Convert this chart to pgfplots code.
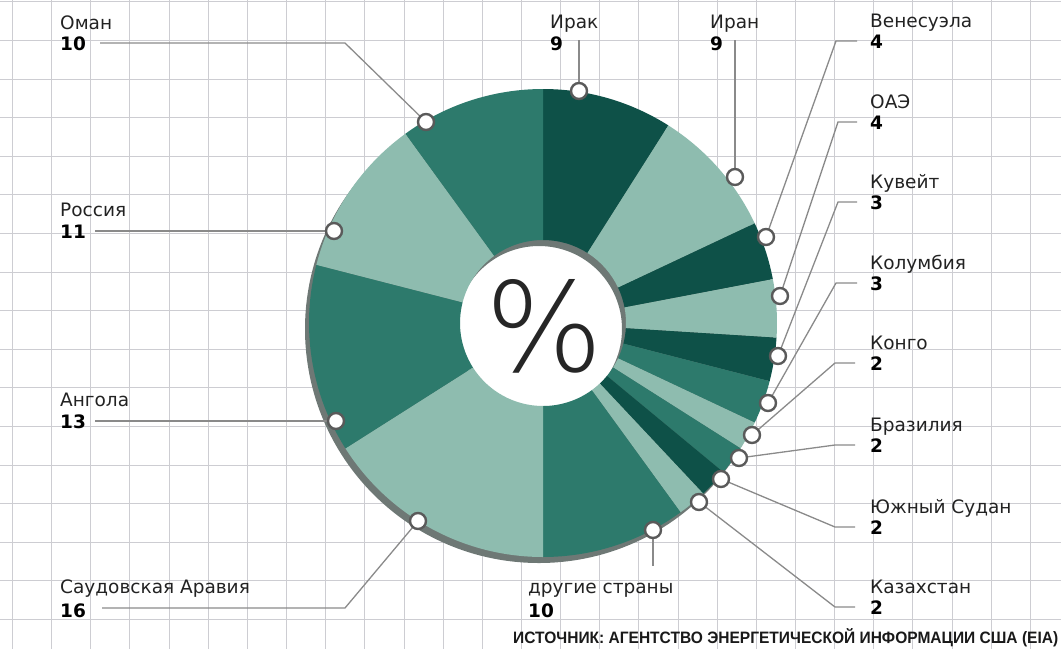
\documentclass[border=0pt]{standalone}
\usepackage{fontspec}
\setmainfont{DejaVu Sans}
\newfontfamily\srcfont{Liberation Sans}
\IfFontExistsTF{DejaVu Sans ExtraLight}
  {\newfontfamily\pctfont{DejaVu Sans ExtraLight}}
  {\IfFontExistsTF{Fira Sans ExtraLight}
    {\newfontfamily\pctfont{Fira Sans ExtraLight}}
    {\IfFontExistsTF{Lato Light}
      {\newfontfamily\pctfont{Lato Light}}
      {\IfFontExistsTF{Open Sans Light}
        {\newfontfamily\pctfont{Open Sans Light}}
        {\newfontfamily\pctfont{Latin Modern Sans}}}}}
\usepackage{graphicx}
\usepackage{pgfplots}
\usepackage{pgfplotstable}
\pgfplotsset{compat=1.18}

\definecolor{dk}{HTML}{0E5148}
\definecolor{md}{HTML}{2D7A6C}
\definecolor{lt}{HTML}{8EBCAF}
\definecolor{shd}{HTML}{6E7875}
\definecolor{gridc}{HTML}{CDCDD2}
\definecolor{leadc}{HTML}{8A8A8A}
\definecolor{mkc}{HTML}{5A5A5A}
\definecolor{namec}{HTML}{222222}

% share (%), slice colour, marker position (pixels from top-left)
\pgfplotstableread[col sep=comma]{
value,col,mx,my
9,dk,579,91
9,lt,735,177
4,dk,766,237
4,lt,780,296
3,dk,778,356
3,md,768,403
2,lt,752,435
2,md,739,458
2,dk,721,479
2,lt,699,502
10,md,653,530
16,lt,418,521
13,md,336,421
11,lt,334,231
10,md,426,122
}\slices

\gdef\sa{90}
\pgfplotstableforeachcolumnelement{value}\of\slices\as\v{%
  \pgfmathsetmacro\ea{\sa-3.6*\v}%
  \expandafter\xdef\csname SA\pgfplotstablerow\endcsname{\sa}%
  \expandafter\xdef\csname EA\pgfplotstablerow\endcsname{\ea}%
  \xdef\sa{\ea}%
}
\pgfplotstableforeachcolumnelement{col}\of\slices\as\c{%
  \xglobal\colorlet{slice\pgfplotstablerow}{\c}%
}
\def\rout{234pt}
\def\rin{83pt}
\def\rdiff{151pt}

\tikzset{
  nm/.style={anchor=base west, inner sep=0pt, text=namec, font=\fontsize{18.5}{20}\selectfont},
  vl/.style={anchor=base west, inner sep=0pt, text=black, font=\fontsize{18.5}{20}\selectfont\bfseries},
  lead/.style={leadc, line width=1.3pt, no markers},
}

\begin{document}
\begin{tikzpicture}
\begin{axis}[
  x=1pt, y=1pt, xmin=0, xmax=1061, ymin=0, ymax=649, y dir=reverse,
  axis line style={draw=none}, major tick length=0pt,
  xtick={12.5,51.5,90.5,129.5,169.5,208.5,247.5,286.5,325.5,364.5,404.5,443.5,482.5,521.5,560.5,599.5,638.5,678.5,717.5,756.5,795.5,834.5,873.5,912.5,952.5,991.5,1030.5},
  ytick={1.5,40.5,79.5,117.5,156.5,194.5,233.5,272.5,310.5,349.5,387.5,426.5,465.5,503.5,542.5,580.5,619.5},
  xticklabels={}, yticklabels={},
  grid=major, major grid style={gridc, line width=1.4pt},
  clip=false,
]
% hole and 3D shadow
\fill[white] (axis cs:543,323) circle[radius=\rin];
\fill[shd, even odd rule] (axis cs:539,329) circle[radius=\rout] (axis cs:539,329) circle[radius=\rin];
% slices
\pgfplotsinvokeforeach{0,...,14}{%
  \edef\tmp{\noexpand\fill[fill=slice#1] ([shift={(\csname SA#1\endcsname:\rout)}]axis cs:543,323)
    arc[start angle=\csname SA#1\endcsname, end angle=\csname EA#1\endcsname, radius=\rout]
    -- ++(\csname EA#1\endcsname:-\rdiff)
    arc[start angle=\csname EA#1\endcsname, end angle=\csname SA#1\endcsname, radius=\rin] -- cycle;}%
  \tmp
}
\node[font=\pctfont\fontsize{124}{124}\selectfont, text=black!85, inner sep=0pt] at (axis cs:544,326) {\%};

% leader lines
\addplot[lead] coordinates {(100,43) (345,43) (426,122)};
\addplot[lead] coordinates {(95,231) (334,231)};
\addplot[lead] coordinates {(95,421) (336,421)};
\addplot[lead] coordinates {(102,608) (345,608) (418,521)};
\addplot[lead] coordinates {(653,530) (653,566)};
\addplot[lead] coordinates {(579,40) (579,91)};
\addplot[lead] coordinates {(735,40) (735,177)};
\addplot[lead] coordinates {(857,41) (836,41) (766,237)};
\addplot[lead] coordinates {(857,122) (838,122) (780,296)};
\addplot[lead] coordinates {(857,202) (838,202) (778,356)};
\addplot[lead] coordinates {(857,283) (836,283) (768,403)};
\addplot[lead] coordinates {(855,363) (835,363) (752,435)};
\addplot[lead] coordinates {(855,445) (835,445) (739,458)};
\addplot[lead] coordinates {(855,527) (835,527) (721,479)};
\addplot[lead] coordinates {(855,607) (835,607) (699,502)};

% markers
\addplot[only marks, mark=*, mark size=8pt, mark options={fill=white, draw=mkc, line width=2.4pt}] table[x=mx, y=my] {\slices};

% labels
\node[nm] at (axis cs:60,29) {Оман};
\node[vl] at (axis cs:60,50) {10};
\node[nm] at (axis cs:60,216) {Россия};
\node[vl] at (axis cs:60,238) {11};
\node[nm] at (axis cs:60,406) {Ангола};
\node[vl] at (axis cs:60,428) {13};
\node[nm] at (axis cs:60,593) {Саудовская Аравия};
\node[vl] at (axis cs:60,617) {16};
\node[nm] at (axis cs:528,593) {другие страны};
\node[vl] at (axis cs:528,617) {10};
\node[nm] at (axis cs:550,28) {Ирак};
\node[vl] at (axis cs:550,50) {9};
\node[nm] at (axis cs:710,28) {Иран};
\node[vl] at (axis cs:710,50) {9};
\node[nm] at (axis cs:870,27) {Венесуэла};
\node[vl] at (axis cs:870,48) {4};
\node[nm] at (axis cs:870,108) {ОАЭ};
\node[vl] at (axis cs:870,129) {4};
\node[nm] at (axis cs:870,188) {Кувейт};
\node[vl] at (axis cs:870,209) {3};
\node[nm] at (axis cs:870,269) {Колумбия};
\node[vl] at (axis cs:870,290) {3};
\node[nm] at (axis cs:870,349) {Конго};
\node[vl] at (axis cs:870,370) {2};
\node[nm] at (axis cs:870,431) {Бразилия};
\node[vl] at (axis cs:870,452) {2};
\node[nm] at (axis cs:870,513) {Южный Судан};
\node[vl] at (axis cs:870,534) {2};
\node[nm] at (axis cs:870,593) {Казахстан};
\node[vl] at (axis cs:870,614) {2};
\node[anchor=base west, inner sep=0pt, text=black!90] at (axis cs:513,643)
  {\resizebox{545pt}{\height}{\srcfont\bfseries\fontsize{16.5}{17}\selectfont ИСТОЧНИК: АГЕНТСТВО ЭНЕРГЕТИЧЕСКОЙ ИНФОРМАЦИИ США (EIA)}};
\end{axis}
\pgfresetboundingbox
\path[use as bounding box] (0,0) rectangle (1061pt,649pt);
\end{tikzpicture}
\end{document}
